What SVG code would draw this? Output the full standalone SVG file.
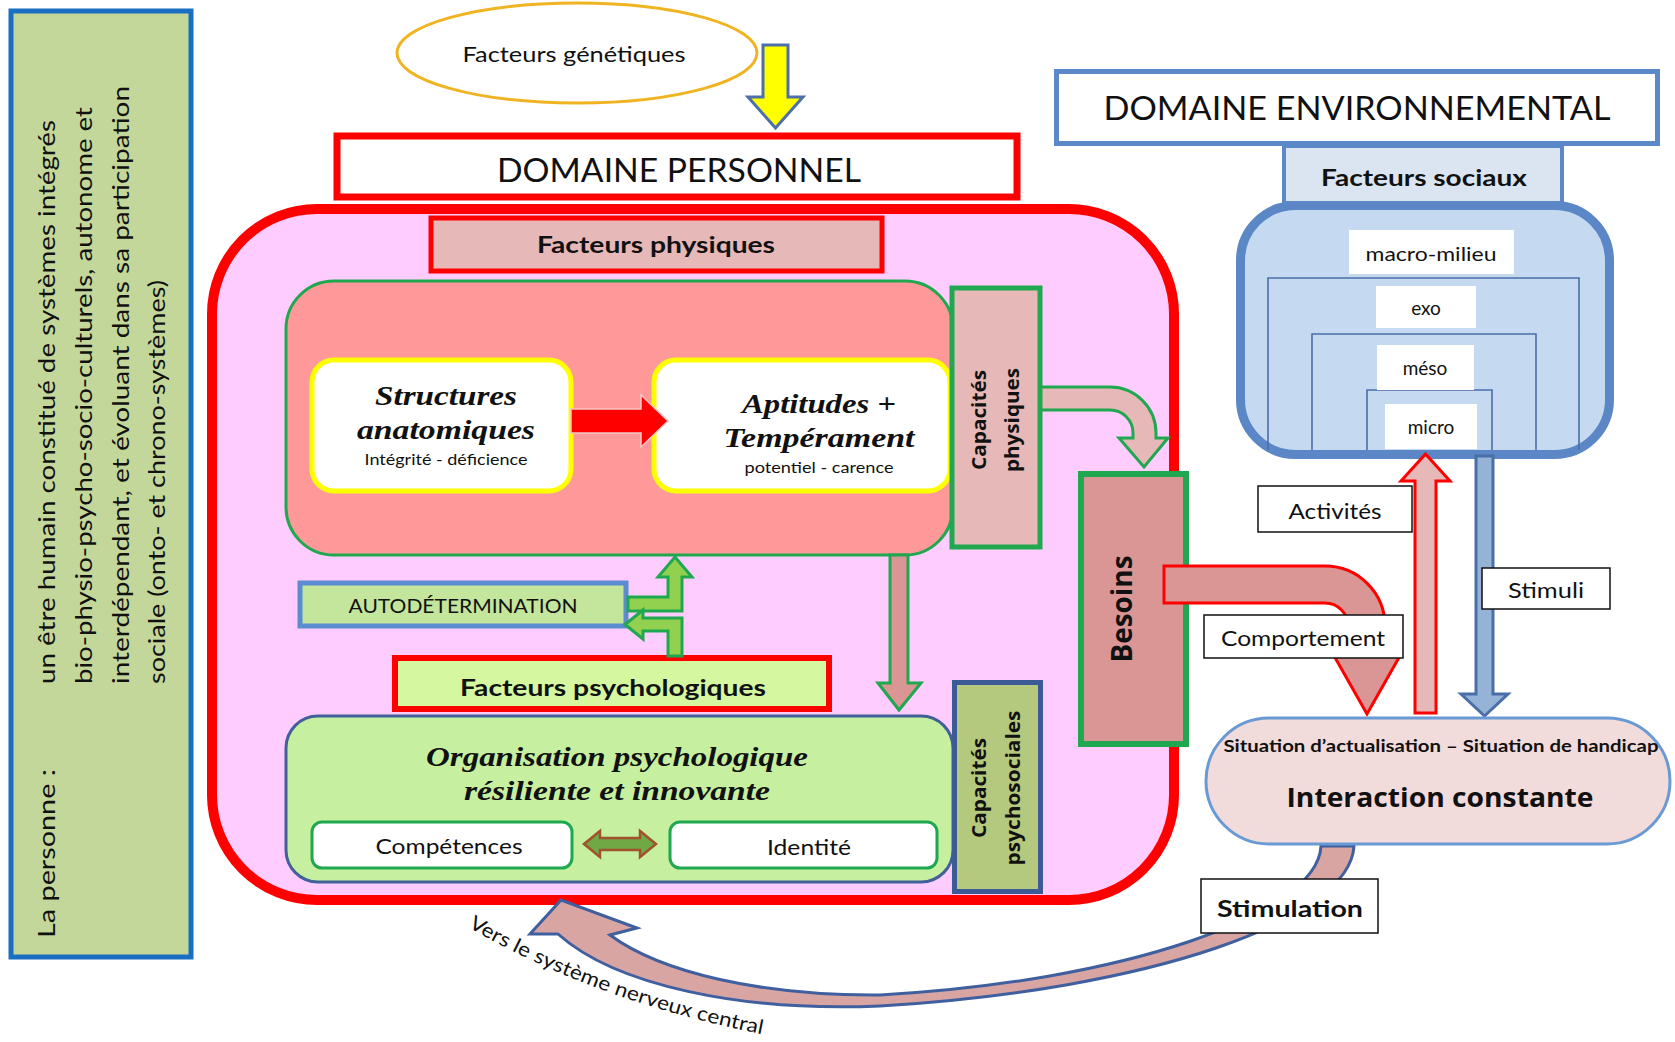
<svg xmlns="http://www.w3.org/2000/svg" width="1675" height="1042" viewBox="0 0 1675 1042">
<defs>
<style>
text{font-family:Lato,"Liberation Sans",sans-serif;fill:#111;text-anchor:middle;dominant-baseline:central}
.b{font-weight:bold}
.ser{font-family:"Liberation Serif","DejaVu Serif",serif;font-weight:bold;font-style:italic}
.wide{font-family:"Open Sans","DejaVu Sans",sans-serif;font-weight:bold}
.lbl{fill:#fff;stroke:#111;stroke-width:1.5}
.lvl{fill:#fff;stroke:none}
.nest{fill:none;stroke:#4a6ea8;stroke-width:1.6}
</style>
</defs>
<rect width="1675" height="1042" fill="#fff"/>

<g id="personne-panel">
<rect x="11" y="11" width="180" height="946" fill="#c4d79b" stroke="#1a6fc0" stroke-width="5"/>
<text transform="translate(45,938) rotate(-90)" style="text-anchor:start" font-size="24" textLength="169" lengthAdjust="spacingAndGlyphs">La personne :</text>
<text transform="translate(45,684) rotate(-90)" style="text-anchor:start" font-size="24" textLength="564" lengthAdjust="spacingAndGlyphs">un être humain constitué de systèmes intégrés</text>
<text transform="translate(82,684) rotate(-90)" style="text-anchor:start" font-size="24" textLength="577" lengthAdjust="spacingAndGlyphs">bio-physio-psycho-socio-culturels, autonome et</text>
<text transform="translate(119,684) rotate(-90)" style="text-anchor:start" font-size="24" textLength="598" lengthAdjust="spacingAndGlyphs">interdépendant, et évoluant dans sa participation</text>
<text transform="translate(155,684) rotate(-90)" style="text-anchor:start" font-size="24" textLength="404" lengthAdjust="spacingAndGlyphs">sociale (onto- et chrono-systèmes)</text>
</g>

<g id="facteurs-genetiques">
<ellipse cx="577" cy="53" rx="180" ry="50" fill="#fff" stroke="#f0b422" stroke-width="3"/>
<text x="574" y="53" font-size="21" textLength="223" lengthAdjust="spacingAndGlyphs">Facteurs  génétiques</text>
</g>

<g id="domaine-personnel-zone">
<rect x="212" y="209" width="962" height="691" rx="105" fill="#ffccff" stroke="#ff0000" stroke-width="10"/>
</g>

<g id="domaine-personnel">
<rect x="337" y="136" width="680" height="61" fill="#fff" stroke="#ff0000" stroke-width="7"/>
<text x="679" y="169" font-size="32" textLength="364" lengthAdjust="spacingAndGlyphs">DOMAINE PERSONNEL</text>
</g>

<g id="facteurs-physiques">
<rect x="431" y="218" width="451" height="53" fill="#e6b8b7" stroke="#ff0000" stroke-width="5"/>
<text class="b" x="656" y="244" font-size="23" textLength="238" lengthAdjust="spacingAndGlyphs">Facteurs physiques</text>
</g>

<g id="systeme-physique">
<rect x="286" y="281" width="667" height="274" rx="48" fill="#ff9999" stroke="#1fa84f" stroke-width="3"/>
</g>

<g id="structures-anatomiques">
<rect x="312" y="360" width="259" height="131" rx="22" fill="#fff" stroke="#ffff00" stroke-width="5"/>
<text class="ser" x="446" y="395" font-size="28" textLength="142" lengthAdjust="spacingAndGlyphs">Structures</text>
<text class="ser" x="446" y="429" font-size="28" textLength="178" lengthAdjust="spacingAndGlyphs">anatomiques</text>
<text x="446" y="459" font-size="15" textLength="163" lengthAdjust="spacingAndGlyphs">Intégrité - déficience</text>
</g>

<g id="aptitudes-temperament">
<rect x="654" y="360" width="296" height="131" rx="22" fill="#fff" stroke="#ffff00" stroke-width="5"/>
<text class="ser" x="819" y="403" font-size="28" textLength="154" lengthAdjust="spacingAndGlyphs">Aptitudes +</text>
<text class="ser" x="819" y="437" font-size="28" textLength="191" lengthAdjust="spacingAndGlyphs">Tempérament</text>
<text x="819" y="467" font-size="15" textLength="149" lengthAdjust="spacingAndGlyphs">potentiel - carence</text>
</g>

<g id="capacites-physiques">
<rect x="952" y="288" width="88" height="259" fill="#e6b8b7" stroke="#1fa84f" stroke-width="5"/>
<text class="wide" transform="translate(979,420) rotate(-90)" font-size="19" textLength="100" lengthAdjust="spacingAndGlyphs">Capacités</text>
<text class="wide" transform="translate(1012,420) rotate(-90)" font-size="19" textLength="104" lengthAdjust="spacingAndGlyphs">physiques</text>
</g>

<g id="besoins">
<rect x="1081" y="474" width="105" height="270" fill="#da9694" stroke="#1fa84f" stroke-width="6"/>
<text class="wide" transform="translate(1121,609) rotate(-90)" font-size="28" textLength="107" lengthAdjust="spacingAndGlyphs">Besoins</text>
</g>

<g id="autodetermination">
<rect x="300" y="583" width="326" height="43" fill="#c3e59c" stroke="#5b8bd0" stroke-width="5"/>
<text x="463" y="605" font-size="20" textLength="229" lengthAdjust="spacingAndGlyphs">AUTODÉTERMINATION</text>
</g>

<g id="facteurs-psychologiques">
<rect x="395" y="658" width="434" height="51" fill="#d4f7a0" stroke="#ff0000" stroke-width="6"/>
<text class="b" x="613" y="687" font-size="23" textLength="306" lengthAdjust="spacingAndGlyphs">Facteurs psychologiques</text>
</g>

<g id="organisation-psychologique">
<rect x="286" y="716" width="667" height="166" rx="32" fill="#c6f0a0" stroke="#41609a" stroke-width="3"/>
<text class="ser" x="617" y="756" font-size="28" textLength="382" lengthAdjust="spacingAndGlyphs">Organisation psychologique</text>
<text class="ser" x="617" y="790" font-size="28" textLength="306" lengthAdjust="spacingAndGlyphs">résiliente et innovante</text>
</g>

<g id="competences">
<rect x="312" y="822" width="260" height="46" rx="10" fill="#fff" stroke="#1fa84f" stroke-width="3"/>
<text x="449" y="845" font-size="21" textLength="147" lengthAdjust="spacingAndGlyphs">Compétences</text>
</g>

<g id="identite">
<rect x="670" y="822" width="267" height="46" rx="10" fill="#fff" stroke="#1fa84f" stroke-width="3"/>
<text x="809" y="846" font-size="21" textLength="84" lengthAdjust="spacingAndGlyphs">Identité</text>
</g>

<g id="capacites-psychosociales">
<rect x="954.5" y="682.5" width="86" height="209" fill="#b4c97d" stroke="#3c5a96" stroke-width="5"/>
<text class="wide" transform="translate(979,788) rotate(-90)" font-size="19" textLength="100" lengthAdjust="spacingAndGlyphs">Capacités</text>
<text class="wide" transform="translate(1013,788) rotate(-90)" font-size="19" textLength="155" lengthAdjust="spacingAndGlyphs">psychosociales</text>
</g>

<g id="domaine-environnemental">
<rect x="1056.5" y="71.5" width="601" height="72" fill="#fff" stroke="#5a88c8" stroke-width="5"/>
<text x="1357" y="107" font-size="32" textLength="507" lengthAdjust="spacingAndGlyphs">DOMAINE ENVIRONNEMENTAL</text>
</g>

<g id="facteurs-sociaux">
<rect x="1284" y="146" width="278" height="57" fill="#dbe5f1" stroke="#5a88c8" stroke-width="4"/>
<text class="b" x="1424" y="177" font-size="23" textLength="206" lengthAdjust="spacingAndGlyphs">Facteurs sociaux</text>
</g>

<g id="milieux">
<rect x="1240.5" y="205.5" width="369" height="249" rx="55" fill="#c5d9f1" stroke="#5b87c6" stroke-width="9"/>
<path class="nest" d="M1268 450V278H1579V450M1312 450V334H1536V450M1367 450V390H1492V450"/>
<rect class="lvl" x="1349" y="230" width="165" height="44"/>
<text x="1431" y="253" font-size="19" textLength="131" lengthAdjust="spacingAndGlyphs">macro-milieu</text>
<rect class="lvl" x="1376" y="286" width="100" height="42"/>
<text x="1426" y="307" font-size="19">exo</text>
<rect class="lvl" x="1377" y="345" width="97" height="45"/>
<text x="1425" y="367" font-size="19">méso</text>
<rect class="lvl" x="1385" y="404" width="92" height="45"/>
<text x="1431" y="426" font-size="19">micro</text>
</g>

<g id="connecteurs">
<path d="M763 45H788V97H803L775.5 128L748 97H763Z" fill="#ffff00" stroke="#4f6fa8" stroke-width="3"/>
<path d="M571 409H641V395L668 421L641 447V433H571Z" fill="#ff0000" stroke="#f6c4c4" stroke-width="1.5"/>
<path d="M1041 387H1110A46 46 0 0 1 1156 433V438H1168L1144 467L1119 438H1133V433A23 23 0 0 0 1110 410H1041Z" fill="#e6b8b7" stroke="#1fa84f" stroke-width="3"/>
<path d="M628 597H668V577H658L675 557L692 577H682V611H628Z" fill="#92d050" stroke="#1fa84f" stroke-width="3"/>
<path d="M682 656V618H643V610L625 624.5L643 639V631H668V656Z" fill="#92d050" stroke="#1fa84f" stroke-width="3"/>
<path d="M890 555H908V683H921L899 710L878 683H890Z" fill="#da9694" stroke="#1fa84f" stroke-width="3"/>
<path d="M584 844L600 831V838H640V831L656 844L640 857V850H600V857Z" fill="#70a845" stroke="#a0522d" stroke-width="2.5"/>
<path d="M1164 566H1325A60 60 0 0 1 1385 626V654H1401L1367 714L1333 654H1348V626A23 23 0 0 0 1325 603H1164Z" fill="#da9694" stroke="#ff0000" stroke-width="3"/>
<path d="M1415 713V481H1401L1425.5 454L1450 481H1436V713Z" fill="#e6b8b7" stroke="#ff0000" stroke-width="3"/>
<path d="M1476 456V694H1461L1484.5 716L1508 694H1493V456Z" fill="#95b3d7" stroke="#4a6ea8" stroke-width="3"/>
<path d="M1354 846C1350 920 1150 990 880 1006C740 1012 615 985 558 934L530 934L561 900L637 928L610 935C660 972 760 996 880 995C1120 982 1318 915 1321 846Z" fill="#d9a5a3" stroke="#3f5f9f" stroke-width="3"/>
<path id="vers-path" d="M472 920Q600 995 772 1028" fill="none"/>
<text font-size="20"><textPath href="#vers-path" startOffset="0" style="text-anchor:start;dominant-baseline:auto" textLength="312" lengthAdjust="spacingAndGlyphs">Vers le système nerveux central</textPath></text>
</g>

<g id="activites">
<rect class="lbl" x="1258" y="486" width="154" height="46"/>
<text x="1335" y="510" font-size="21" textLength="93" lengthAdjust="spacingAndGlyphs">Activités</text>
</g>

<g id="stimuli">
<rect class="lbl" x="1482" y="568" width="128" height="41"/>
<text x="1546" y="589" font-size="21" textLength="76" lengthAdjust="spacingAndGlyphs">Stimuli</text>
</g>

<g id="comportement">
<rect class="lbl" x="1204" y="615" width="199" height="43"/>
<text x="1303" y="637" font-size="21" textLength="164" lengthAdjust="spacingAndGlyphs">Comportement</text>
</g>

<g id="interaction-constante">
<rect x="1206" y="718" width="464" height="126" rx="63" fill="#f2dcdb" stroke="#6a9ad4" stroke-width="3"/>
<text class="b" x="1441" y="745" font-size="17" textLength="435" lengthAdjust="spacingAndGlyphs">Situation d’actualisation – Situation de handicap</text>
<text class="wide" x="1440" y="796" font-size="27" textLength="307" lengthAdjust="spacingAndGlyphs">Interaction constante</text>
</g>

<g id="stimulation">
<rect class="lbl" x="1201" y="879" width="177" height="54"/>
<text class="b" x="1290" y="908" font-size="23" textLength="146" lengthAdjust="spacingAndGlyphs">Stimulation</text>
</g>
</svg>
